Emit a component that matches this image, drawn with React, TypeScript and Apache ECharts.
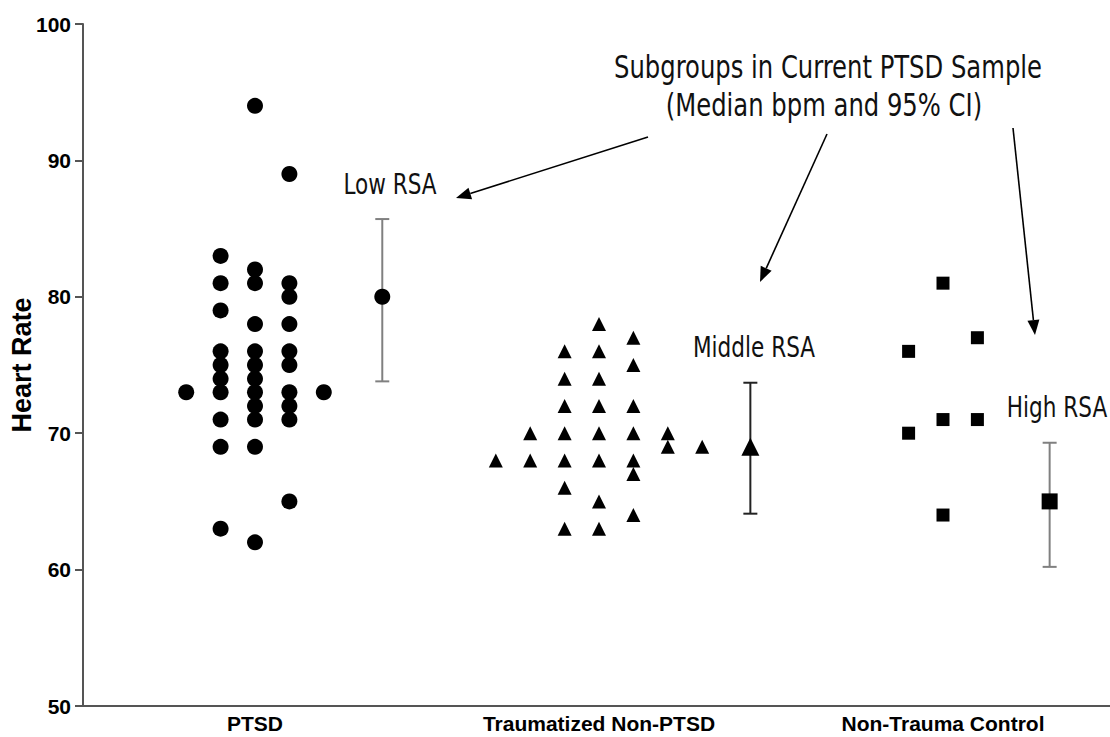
import React, { useEffect, useRef } from "react";
import * as echarts from "echarts";

// ---------- data ----------
const categories = ["PTSD", "Traumatized Non-PTSD", "Non-Trauma Control"];
const yTicks = [50, 60, 70, 80, 90, 100];

// column index of each point inside its group's swarm (0 = group centre)
const ptsdColumns = [
  -2,
  -1, -1, -1, -1, -1, -1, -1, -1, -1, -1,
  0, 0, 0, 0, 0, 0, 0, 0, 0, 0, 0, 0,
  1, 1, 1, 1, 1, 1, 1, 1, 1, 1,
  2,
];
const ptsdValues = [
  73,
  83, 81, 79, 76, 75, 74, 73, 71, 69, 63,
  94, 82, 81, 78, 76, 75, 74, 73, 72, 71, 69, 62,
  89, 81, 80, 78, 76, 75, 73, 72, 71, 65,
  73,
];

const traumaColumns = [
  -3,
  -2, -2,
  -1, -1, -1, -1, -1, -1, -1,
  0, 0, 0, 0, 0, 0, 0, 0,
  1, 1, 1, 1, 1, 1, 1,
  2, 2,
  3,
];
const traumaValues = [
  68,
  70, 68,
  76, 74, 72, 70, 68, 66, 63,
  78, 76, 74, 72, 70, 68, 65, 63,
  77, 75, 72, 70, 68, 67, 64,
  70, 69,
  69,
];

const controlColumns = [-1, -1, 0, 0, 0, 1, 1];
const controlValues = [76, 70, 81, 71, 64, 77, 71];

const subgroupMedians = [80, 69, 65];
const subgroupCILow = [73.8, 64.1, 60.2];
const subgroupCIHigh = [85.7, 73.7, 69.3];
const subgroupLabels = ["Low RSA", "Middle RSA", "High RSA"];

// ---------- layout / style constants ----------
const COL_STEP = 0.1;
const MEDIAN_OFFSET = [0.37, 0.44, 0.31];
const SYMBOLS = ["circle", "triangle", "rect"];
const SYMBOL_SIZES = [16, 14, 13];
const MEDIAN_SIZES = [16, 18, 16];
const BAR_COLORS = ["#808080", "#222222", "#808080"];
const ANN_FONT = '"DejaVu Sans Condensed", "DejaVu Sans", Verdana, sans-serif';
const AXIS_FONT = '"Liberation Sans", Arial, Helvetica, sans-serif';

function swarm(group: number, cols: number[], vals: number[]) {
  return vals.map((v, i) => [group + 0.5 + cols[i] * COL_STEP, v]);
}

function arrow(x1: number, y1: number, x2: number, y2: number) {
  const a = Math.atan2(y2 - y1, x2 - x1);
  const L = 15;
  const W = 6;
  const bx = x2 - L * Math.cos(a);
  const by = y2 - L * Math.sin(a);
  const px = -Math.sin(a) * W;
  const py = Math.cos(a) * W;
  return [
    {
      type: "line",
      shape: { x1, y1, x2: bx, y2: by },
      style: { stroke: "#000", lineWidth: 1.6 },
    },
    {
      type: "polygon",
      shape: {
        points: [
          [x2, y2],
          [bx + px, by + py],
          [bx - px, by - py],
        ],
      },
      style: { fill: "#000" },
    },
  ];
}

function annText(text: string, x: number, y: number, size: number) {
  return {
    type: "text",
    x,
    y,
    scaleY: 1.15,
    style: {
      text,
      fontSize: size,
      fontFamily: ANN_FONT,
      fill: "#111",
      align: "center",
      verticalAlign: "middle",
    },
  };
}

export default function App() {
  const ref = useRef<HTMLDivElement>(null);

  useEffect(() => {
    if (!ref.current) return;
    const chart = echarts.init(ref.current, undefined, { renderer: "svg" });

    const groups = [
      swarm(0, ptsdColumns, ptsdValues),
      swarm(1, traumaColumns, traumaValues),
      swarm(2, controlColumns, controlValues),
    ];

    const series: any[] = [];
    groups.forEach((data, g) => {
      series.push({
        type: "scatter",
        xAxisIndex: 1,
        yAxisIndex: 0,
        symbol: SYMBOLS[g],
        symbolSize: SYMBOL_SIZES[g],
        itemStyle: { color: "#000", opacity: 1 },
        data,
        z: 3,
      });
    });

    series.push({
      type: "custom",
      xAxisIndex: 1,
      yAxisIndex: 0,
      data: subgroupMedians.map((_, g) => [
        g + 0.5 + MEDIAN_OFFSET[g],
        subgroupCILow[g],
        subgroupCIHigh[g],
        g,
      ]),
      encode: { x: 0, y: [1, 2] },
      renderItem: (params: any, api: any) => {
        const x = api.value(0);
        const lo = api.coord([x, api.value(1)]);
        const hi = api.coord([x, api.value(2)]);
        const g = api.value(3);
        const c = BAR_COLORS[g];
        const hw = 7;
        const st = { stroke: c, lineWidth: 2 };
        return {
          type: "group",
          children: [
            { type: "line", shape: { x1: lo[0], y1: lo[1], x2: hi[0], y2: hi[1] }, style: st },
            { type: "line", shape: { x1: lo[0] - hw, y1: lo[1], x2: lo[0] + hw, y2: lo[1] }, style: st },
            { type: "line", shape: { x1: hi[0] - hw, y1: hi[1], x2: hi[0] + hw, y2: hi[1] }, style: st },
          ],
        };
      },
      z: 2,
    });

    subgroupMedians.forEach((m, g) => {
      series.push({
        type: "scatter",
        xAxisIndex: 1,
        yAxisIndex: 0,
        symbol: SYMBOLS[g],
        symbolSize: MEDIAN_SIZES[g],
        itemStyle: { color: "#000", opacity: 1 },
        data: [[g + 0.5 + MEDIAN_OFFSET[g], m]],
        z: 4,
      });
    });

    const graphic: any[] = [
      annText("Subgroups in Current PTSD Sample", 828, 67, 27),
      annText("(Median bpm and 95% CI)", 824, 105, 27),
      annText(subgroupLabels[0], 390, 184, 24),
      annText(subgroupLabels[1], 754, 347, 24),
      annText(subgroupLabels[2], 1057, 407, 24),
      ...arrow(648, 137, 456, 198),
      ...arrow(827, 134, 760, 282),
      ...arrow(1013, 128, 1035, 335),
    ];

    chart.setOption({
      animation: false,
      backgroundColor: "#fff",
      grid: {
        left: 83,
        right: -5,
        top: 24,
        bottom: 31,
        containLabel: false,
        outerBoundsMode: "none",
      },
      xAxis: [
        {
          type: "category",
          data: categories,
          boundaryGap: true,
          axisLine: { lineStyle: { color: "#555", width: 2 } },
          axisTick: { show: false },
          axisLabel: {
            color: "#000",
            fontWeight: "bold",
            fontSize: 21,
            fontFamily: AXIS_FONT,
            margin: 7,
            interval: 0,
          },
          splitLine: { show: false },
        },
        {
          type: "value",
          min: 0,
          max: 3,
          show: false,
          splitLine: { show: false },
        },
      ],
      yAxis: {
        type: "value",
        min: yTicks[0],
        max: yTicks[yTicks.length - 1],
        interval: 10,
        name: "Heart Rate",
        nameLocation: "middle",
        nameGap: 48,
        nameMoveOverlap: false,
        nameTextStyle: {
          color: "#000",
          fontWeight: "bold",
          fontSize: 27,
          fontFamily: AXIS_FONT,
        },
        axisLine: { show: true, lineStyle: { color: "#555", width: 2 } },
        axisTick: { show: true, length: 8, lineStyle: { color: "#555", width: 2 } },
        axisLabel: {
          color: "#000",
          fontWeight: "bold",
          fontSize: 21,
          fontFamily: AXIS_FONT,
          margin: 12,
        },
        splitLine: { show: false },
      },
      series,
      graphic,
    });

    return () => chart.dispose();
  }, []);

  return (
    <div
      ref={ref}
      style={{ position: "absolute", left: 0, top: 0, width: 1110, height: 737 }}
    />
  );
}
